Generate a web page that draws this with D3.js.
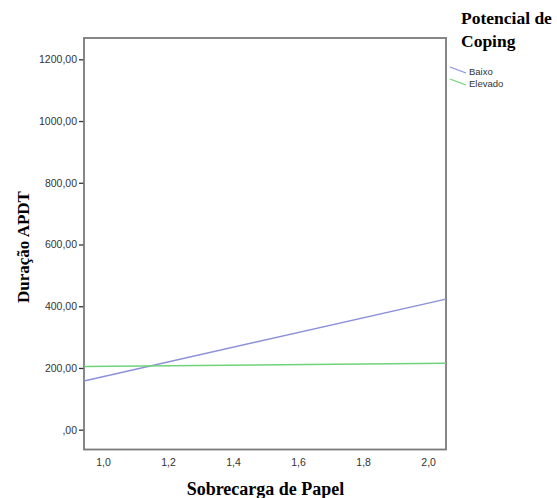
<!DOCTYPE html>
<html><head><meta charset="utf-8">
<script src="https://cdn.jsdelivr.net/npm/d3@7"></script>
<style>body{margin:0;background:#fff}svg{display:block}</style>
</head><body>
<script>
const seriesNames = ["Baixo", "Elevado"];
const seriesColors = ["#8c90d8", "#6fd37a"];
const xEnds = [0.9415, 2.055];
const baixoValues = [158, 423];
const elevadoValues = [205, 215];
const yTicks = [0, 200, 400, 600, 800, 1000, 1200];
const xTicks = [1.0, 1.2, 1.4, 1.6, 1.8, 2.0];

const W = 557, H = 498;
const svg = d3.select("body").append("svg").attr("width", W).attr("height", H);
const L = 84, R = 446, T = 38, B = 449.5;
const x = d3.scaleLinear().domain([0.9415, 2.055]).range([L, R]);
const y = d3.scaleLinear().domain([0, 1200]).range([429.7, 59.3]);

const fmtY = d => d3.format(".2f")(d).replace(".", ",").replace(/^0,/, ",");
const fmtX = d => d3.format(".1f")(d).replace(".", ",");
const serif = "'Liberation Serif', 'Times New Roman', serif";
const sans = "Arial, 'Liberation Sans', sans-serif";

// y axis
const ya = svg.append("g").attr("transform", `translate(${L},0)`)
  .call(d3.axisLeft(y).tickValues(yTicks).tickFormat(fmtY).tickSize(5).tickPadding(2));
ya.select(".domain").remove();
ya.selectAll("line").attr("stroke", "#333").attr("stroke-width", 1.3);
ya.selectAll("text").attr("fill", "#333").style("font-family", sans).style("font-size", "10.5px");

// x axis
const xa = svg.append("g").attr("transform", `translate(0,${B})`)
  .call(d3.axisBottom(x).tickValues(xTicks).tickFormat(fmtX).tickSize(0).tickPadding(9));
xa.select(".domain").remove();
xa.selectAll("text").attr("fill", "#333").style("font-family", sans).style("font-size", "10.5px");

// frame
svg.append("rect").attr("x", L).attr("y", T).attr("width", R - L).attr("height", B - T)
  .attr("fill", "none").attr("stroke", "#7a7a7a").attr("stroke-width", 1.8);

// lines
const series = [baixoValues, elevadoValues];
const line = d3.line().x(d => x(d[0])).y(d => y(d[1]));
series.forEach((vals, i) => {
  svg.append("path").datum(xEnds.map((xv, j) => [xv, vals[j]]))
    .attr("d", line).attr("fill", "none").attr("stroke", seriesColors[i]).attr("stroke-width", 1.5);
});

// titles
svg.append("text").attr("x", 265.5).attr("y", 495).attr("text-anchor", "middle")
  .style("font-family", serif).style("font-weight", "bold").style("font-size", "18px")
  .text("Sobrecarga de Papel");
svg.append("text").attr("transform", "translate(28.5,247) rotate(-90)").attr("text-anchor", "middle")
  .style("font-family", serif).style("font-weight", "bold").style("font-size", "17px")
  .text("Duração APDT");

// legend
const lg = svg.append("g");
lg.append("text").attr("x", 461).attr("y", 24)
  .style("font-family", serif).style("font-weight", "bold").style("font-size", "17.5px")
  .text("Potencial de");
lg.append("text").attr("x", 461).attr("y", 47)
  .style("font-family", serif).style("font-weight", "bold").style("font-size", "17.5px")
  .text("Coping");
seriesNames.forEach((n, i) => {
  const yy = 67 + i * 12;
  lg.append("line").attr("x1", 450).attr("y1", yy).attr("x2", 466).attr("y2", yy + 6)
    .attr("stroke", seriesColors[i]).attr("stroke-width", 1.3);
  lg.append("text").attr("x", 469).attr("y", yy + 8)
    .style("font-family", sans).style("font-size", "9.5px").attr("fill", "#333")
    .text(n);
});
</script>
</body></html>
